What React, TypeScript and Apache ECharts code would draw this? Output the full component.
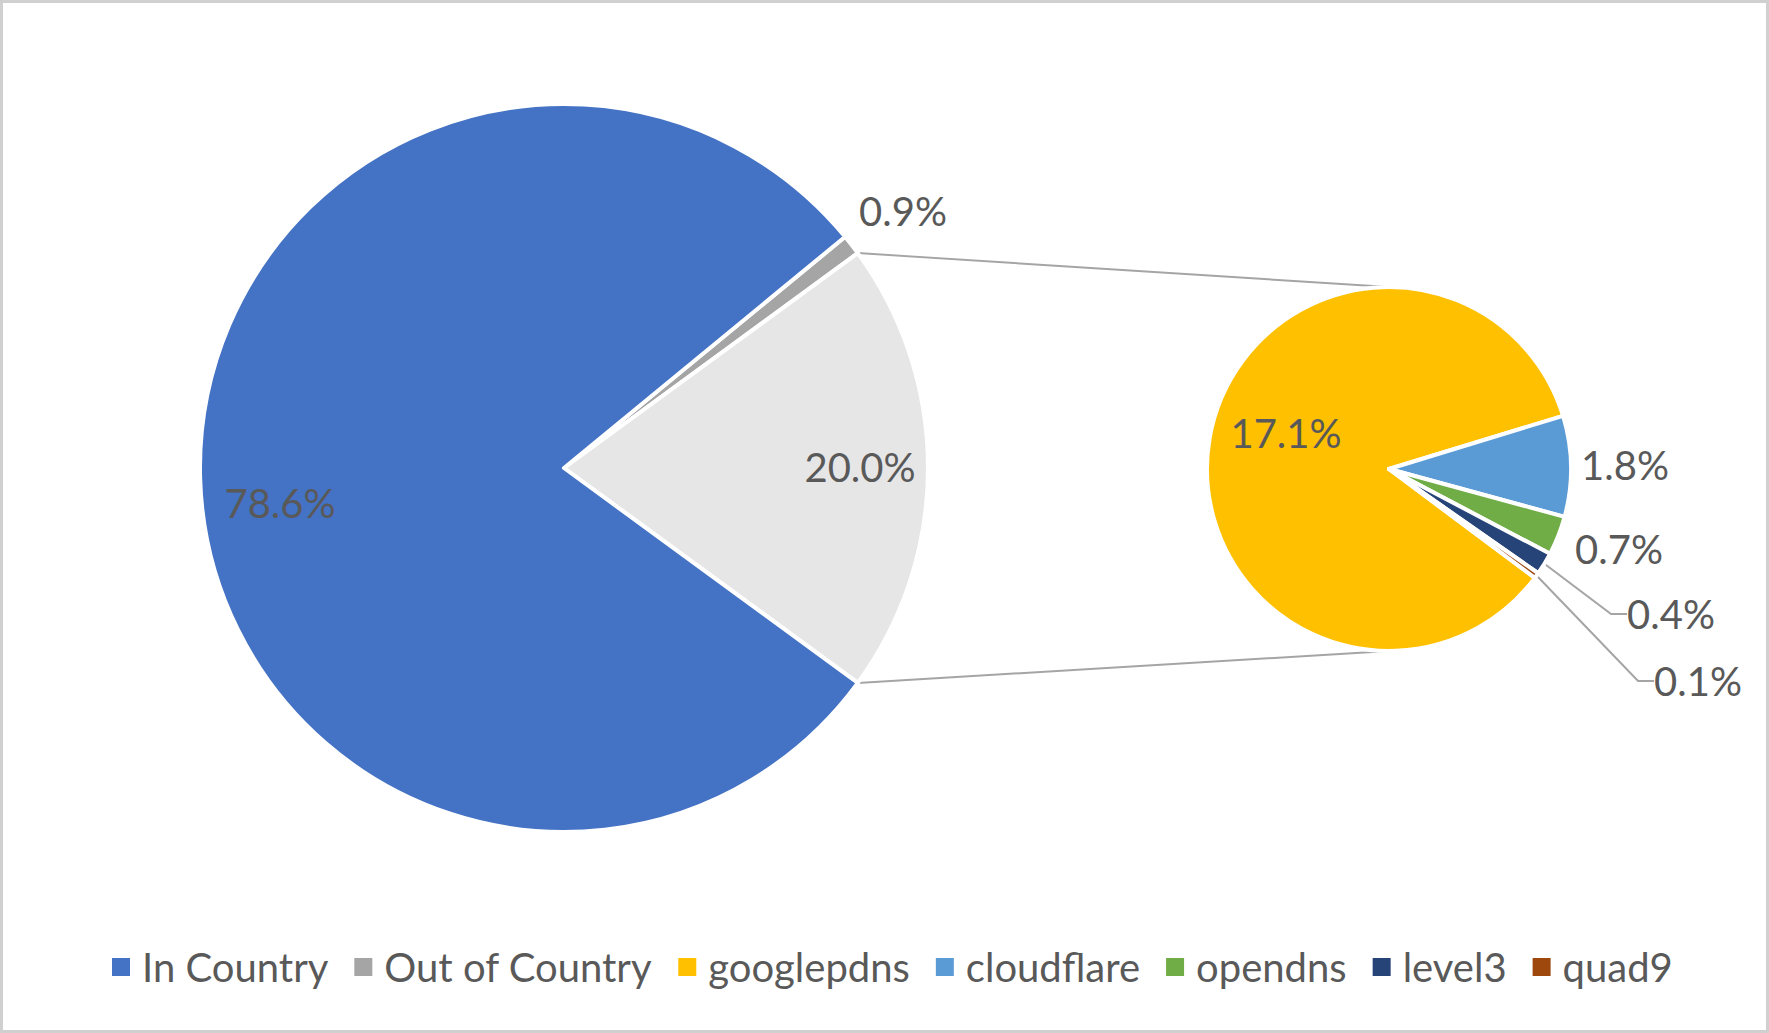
import React, { useEffect, useRef } from 'react';
import * as echarts from 'echarts';

// ---- data ----
const mainCategories = ['Out of Country', 'Other', 'In Country'];
const mainValues = [0.9, 20.0, 78.6];
const mainColors = ['#A5A5A5', '#E7E6E6', '#4472C4'];

const subCategories = ['googlepdns', 'cloudflare', 'opendns', 'level3', 'quad9'];
const subValues = [17.1, 1.8, 0.7, 0.4, 0.1];
const subColors = ['#FFC000', '#5B9BD5', '#70AD47', '#264478', '#9E480E'];

const legendOrder = ['In Country', 'Out of Country', 'googlepdns', 'cloudflare', 'opendns', 'level3', 'quad9'];

// ---- layout / style ----
const W = 1769;
const H = 1033;
const MAIN = { cx: 564, cy: 468, r: 364 };
const SUB = { cx: 1389, cy: 469, r: 182 };
const SUB_SPLIT_DEG = 17; // angle where the first small slice starts
const FONT = 'Lato, "Open Sans", sans-serif';
const TEXT_COLOR = '#595959';
const mainLabelOffsets = [[339, -257], [296, -1], [-284, 35]];
const subLabelOffsets = [[-103, -36], [236, -4], [230, 80], [282, 145], [309, 212]];
const subLabelLineShown = [false, false, false, true, true];

const sum = (a: number[]) => a.reduce((s, v) => s + v, 0);

export default function App() {
  const ref = useRef<HTMLDivElement>(null);
  useEffect(() => {
    if (!ref.current) return;
    const chart = echarts.init(ref.current, undefined, { renderer: 'svg' });

    const mainTotal = sum(mainValues);
    const outDeg = (mainValues[0] / mainTotal) * 360;
    const otherDeg = (mainValues[1] / mainTotal) * 360;
    const mainStart = otherDeg / 2 + outDeg;

    const subTotal = sum(subValues);
    const googleDeg = (subValues[0] / subTotal) * 360;
    const subStart = SUB_SPLIT_DEG + googleDeg;

    const a = ((otherDeg / 2) * Math.PI) / 180;
    const edgeX = MAIN.cx + MAIN.r * Math.cos(a);
    const edgeTopY = MAIN.cy - MAIN.r * Math.sin(a);
    const edgeBotY = MAIN.cy + MAIN.r * Math.sin(a);

    const labelStyle = {
      show: true,
      fontFamily: FONT,
      fontSize: 40,
      color: TEXT_COLOR,
      formatter: (p: any) => Number(p.value).toFixed(1) + '%',
    };

    chart.setOption({
      animation: false,
      backgroundColor: '#ffffff',
      legend: {
        data: legendOrder,
        left: 110,
        top: 947,
        padding: 0,
        icon: 'rect',
        itemWidth: 20,
        itemHeight: 20,
        itemGap: 24,
        textStyle: { fontFamily: FONT, fontSize: 40, color: TEXT_COLOR, padding: [0, 0, 0, 6] },
      },
      graphic: [
        {
          type: 'rect',
          shape: { x: 1.5, y: 1.5, width: W - 3, height: H - 3 },
          style: { fill: 'none', stroke: '#D0D0D0', lineWidth: 3 },
          silent: true,
        },
        {
          type: 'line',
          shape: { x1: edgeX, y1: edgeTopY, x2: SUB.cx, y2: SUB.cy - SUB.r },
          style: { stroke: '#A5A5A5', lineWidth: 2 },
          silent: true,
        },
        {
          type: 'line',
          shape: { x1: edgeX, y1: edgeBotY, x2: SUB.cx, y2: SUB.cy + SUB.r },
          style: { stroke: '#A5A5A5', lineWidth: 2 },
          silent: true,
        },
      ],
      series: [
        {
          type: 'pie',
          center: [MAIN.cx, MAIN.cy],
          radius: MAIN.r,
          startAngle: mainStart,
          clockwise: true,
          avoidLabelOverlap: false,
          emphasis: { disabled: true },
          itemStyle: { borderColor: '#ffffff', borderWidth: 4 },
          label: { ...labelStyle },
          labelLine: { show: false },
          data: mainCategories.map((n, i) => ({
            name: n,
            value: mainValues[i],
            itemStyle: { color: mainColors[i] },
            label: { position: i === 0 ? 'outside' : 'inside' },
          })),
          labelLayout: (p: any) => ({
            x: MAIN.cx + mainLabelOffsets[p.dataIndex][0],
            y: MAIN.cy + mainLabelOffsets[p.dataIndex][1],
            align: 'center',
            verticalAlign: 'middle',
          }),
        },
        {
          type: 'pie',
          center: [SUB.cx, SUB.cy],
          radius: SUB.r,
          startAngle: subStart,
          clockwise: true,
          avoidLabelOverlap: false,
          emphasis: { disabled: true },
          itemStyle: { borderColor: '#ffffff', borderWidth: 4 },
          label: { ...labelStyle },
          labelLine: { show: true, length: 20, length2: 16, lineStyle: { color: '#A5A5A5', width: 2 } },
          data: subCategories.map((n, i) => ({
            name: n,
            value: subValues[i],
            itemStyle: { color: subColors[i] },
            label: { position: i === 0 ? 'inside' : 'outside' },
            labelLine: { show: subLabelLineShown[i] },
          })),
          labelLayout: (p: any) => ({
            x: SUB.cx + subLabelOffsets[p.dataIndex][0],
            y: SUB.cy + subLabelOffsets[p.dataIndex][1],
            align: 'center',
            verticalAlign: 'middle',
          }),
        },
      ],
    });
    return () => chart.dispose();
  }, []);
  return (
    <div
      ref={ref}
      style={{ position: 'fixed', left: 0, top: 0, width: W, height: H, background: '#fff' }}
    />
  );
}
